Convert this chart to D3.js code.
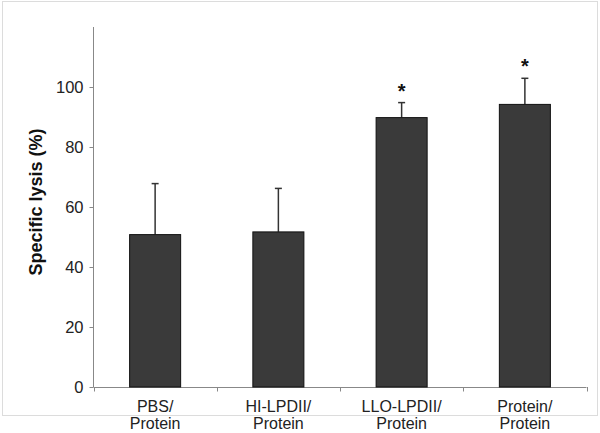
<!DOCTYPE html>
<html>
<head>
<meta charset="utf-8">
<script src="https://cdn.jsdelivr.net/npm/d3@7"></script>
<style>
  body { margin: 0; background: #fff; }
  svg text { font-family: "Liberation Sans", Arial, sans-serif; }
</style>
</head>
<body>
<div class="root"></div>
<script>
var categories = [['PBS/', 'Protein'], ['HI-LPDII/', 'Protein'], ['LLO-LPDII/', 'Protein'], ['Protein/', 'Protein']];
var lysis = [50.8, 51.7, 89.8, 94.2];
var errors = [17.0, 14.5, 5.0, 8.7];
var significant = [false, false, true, true];
var yTicks = [0, 20, 40, 60, 80, 100];

function drawChart() {
  var w = 600, h = 433;

  var svg = d3.select('.root').append('svg')
    .attr('width', w)
    .attr('height', h);

  // light frame round the figure
  svg.append('rect')
    .attr('x', 2.5).attr('y', 1.5)
    .attr('width', 595).attr('height', 414)
    .attr('fill', 'none')
    .attr('stroke', '#dcdcdc');

  var x = d3.scaleBand()
    .domain(d3.range(categories.length))
    .range([93.5, 586.5])
    .paddingInner(0.586)
    .paddingOuter(0.293);

  var y = d3.scaleLinear()
    .domain([0, 120])
    .range([387, 27]);

  // y axis
  var yAxis = svg.append('g')
    .attr('transform', 'translate(93.5,0)')
    .call(d3.axisLeft(y).tickValues(yTicks).tickSize(4).tickPadding(6));
  yAxis.select('.domain').attr('stroke', '#888').attr('d', 'M0,' + y(0) + 'V' + y(120));
  yAxis.selectAll('.tick line').attr('stroke', '#888');
  yAxis.selectAll('.tick text')
    .attr('font-size', 16.5)
    .attr('fill', '#222');

  // x axis with boundary ticks
  var bounds = d3.range(categories.length + 1).map(function(i) {
    return 93.5 + i * x.step();
  });
  svg.append('line')
    .attr('x1', bounds[0]).attr('x2', bounds[bounds.length - 1])
    .attr('y1', y(0) + 0.5).attr('y2', y(0) + 0.5)
    .attr('stroke', '#888');
  svg.selectAll('.xtick')
    .data(bounds)
    .enter().append('line')
    .attr('class', 'xtick')
    .attr('x1', function(d) { return Math.round(d) + 0.5; })
    .attr('x2', function(d) { return Math.round(d) + 0.5; })
    .attr('y1', y(0)).attr('y2', y(0) + 4.5)
    .attr('stroke', '#888');

  // error bars (upper only)
  var err = svg.append('g').selectAll('g')
    .data(lysis)
    .enter().append('g');
  err.append('line')
    .attr('x1', function(d, i) { return x(i) + x.bandwidth() / 2; })
    .attr('x2', function(d, i) { return x(i) + x.bandwidth() / 2; })
    .attr('y1', function(d) { return y(d); })
    .attr('y2', function(d, i) { return y(d + errors[i]); })
    .attr('stroke', '#333')
    .attr('stroke-width', 1.5);
  err.append('line')
    .attr('x1', function(d, i) { return x(i) + x.bandwidth() / 2 - 3.5; })
    .attr('x2', function(d, i) { return x(i) + x.bandwidth() / 2 + 3.5; })
    .attr('y1', function(d, i) { return y(d + errors[i]); })
    .attr('y2', function(d, i) { return y(d + errors[i]); })
    .attr('stroke', '#333')
    .attr('stroke-width', 1.5);

  // bars
  svg.append('g').selectAll('rect')
    .data(lysis)
    .enter().append('rect')
    .attr('x', function(d, i) { return x(i); })
    .attr('y', function(d) { return y(d); })
    .attr('width', x.bandwidth())
    .attr('height', function(d) { return y(0) - y(d); })
    .attr('fill', '#3a3a3a')
    .attr('stroke', '#111')
    .attr('stroke-width', 1);

  // asterisks
  svg.append('g').selectAll('text')
    .data(lysis)
    .enter().filter(function(d, i) { return significant[i]; })
    .append('text')
    .attr('x', function(d, i) { return x(lysis.indexOf(d)) + x.bandwidth() / 2; })
    .attr('y', function(d) { return y(d + errors[lysis.indexOf(d)]) - 5; })
    .attr('text-anchor', 'middle')
    .attr('font-size', 20)
    .attr('font-weight', 'bold')
    .attr('fill', '#111')
    .text('*');

  // category labels
  var labels = svg.append('g').selectAll('text')
    .data(categories)
    .enter().append('text')
    .attr('text-anchor', 'middle')
    .attr('font-size', 16)
    .attr('fill', '#222')
    .attr('transform', function(d, i) {
      return 'translate(' + (x(i) + x.bandwidth() / 2) + ',412)';
    });
  labels.append('tspan')
    .attr('x', 0).attr('y', 0)
    .text(function(d) { return d[0]; });
  labels.append('tspan')
    .attr('x', 0).attr('y', 17)
    .text(function(d) { return d[1]; });

  // y title
  svg.append('text')
    .attr('transform', 'translate(42,202) rotate(-90)')
    .attr('text-anchor', 'middle')
    .attr('font-size', 18)
    .attr('font-weight', 'bold')
    .attr('fill', '#111')
    .text('Specific lysis (%)');
}

window.onload = function() {
  drawChart();
};
</script>
</body>
</html>
